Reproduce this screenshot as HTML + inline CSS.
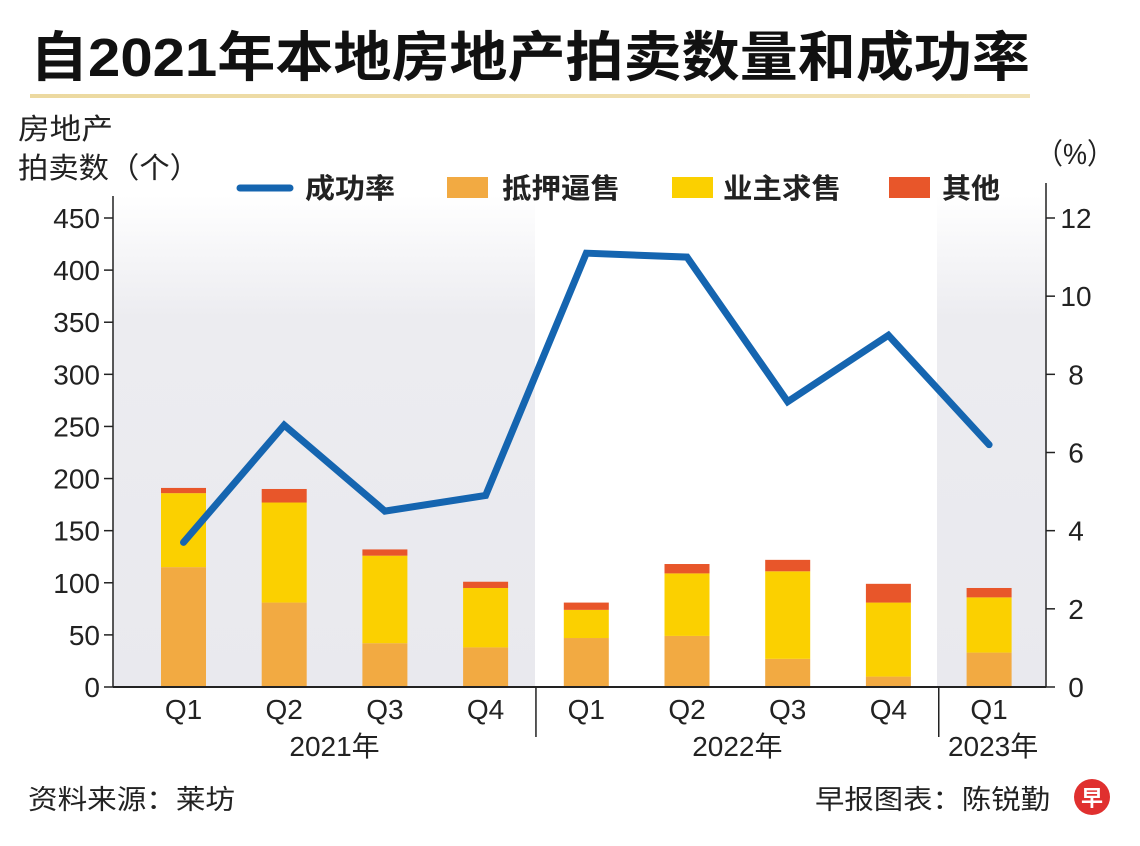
<!DOCTYPE html>
<html><head><meta charset="utf-8"><style>
body{margin:0;background:#fff;}
svg{display:block;font-family:"Liberation Sans","Noto Sans CJK SC",sans-serif;}
</style></head><body>
<svg id="chart" width="1140" height="846" viewBox="0 0 1140 846">
<defs>
<linearGradient id="bg" x1="0" y1="0" x2="0" y2="1"><stop offset="0" stop-color="#fff"/><stop offset="0.25" stop-color="#ececf0"/><stop offset="1" stop-color="#e9e9ee"/></linearGradient>
<linearGradient id="ul" x1="0" y1="0" x2="1" y2="0"><stop offset="0" stop-color="#ecd9a0"/><stop offset="1" stop-color="#f1e2b6"/></linearGradient>
</defs>
<text x="30" y="76" font-size="54" font-weight="bold" fill="#111" textLength="1000" lengthAdjust="spacingAndGlyphs">自2021年本地房地产拍卖数量和成功率</text>
<rect x="30" y="94" width="1000" height="4" fill="url(#ul)"/>
<rect x="113" y="195" width="422" height="492" fill="url(#bg)"/>
<rect x="937" y="195" width="109" height="492" fill="url(#bg)"/>
<text x="18" y="139" font-size="29" fill="#222" textLength="95" lengthAdjust="spacingAndGlyphs">房地产</text>
<text x="18" y="178" font-size="29" fill="#222" textLength="182" lengthAdjust="spacingAndGlyphs">拍卖数（个）</text>
<text x="1036" y="164" font-size="29" fill="#222" textLength="78" lengthAdjust="spacingAndGlyphs">（%）</text>
<g>
<line x1="240" y1="188" x2="290" y2="188" stroke="#1565b0" stroke-width="7" stroke-linecap="round"/>
<text x="305" y="198" font-size="28" font-weight="bold" fill="#222" textLength="90" lengthAdjust="spacingAndGlyphs">成功率</text>
<rect x="447" y="177" width="41" height="21" fill="#f2aa42"/>
<text x="502" y="198" font-size="28" font-weight="bold" fill="#222" textLength="118" lengthAdjust="spacingAndGlyphs">抵押逼售</text>
<rect x="672" y="177" width="41" height="21" fill="#fbd000"/>
<text x="723" y="198" font-size="28" font-weight="bold" fill="#222" textLength="118" lengthAdjust="spacingAndGlyphs">业主求售</text>
<rect x="889" y="177" width="41" height="21" fill="#e8562a"/>
<text x="942" y="198" font-size="28" font-weight="bold" fill="#222" textLength="58" lengthAdjust="spacingAndGlyphs">其他</text>
</g>
<g id="marks"></g>
<g id="axes"></g>
<text x="28" y="809" font-size="27" fill="#222" textLength="207" lengthAdjust="spacingAndGlyphs">资料来源：莱坊</text>
<text x="815" y="809" font-size="27" fill="#222" textLength="235" lengthAdjust="spacingAndGlyphs">早报图表：陈锐勤</text>
<circle cx="1092" cy="797" r="18" fill="#e0302f"/>
<text x="1092" y="806" font-size="22" font-weight="bold" fill="#fff" text-anchor="middle">早</text>
</svg>
<script>
const categories=["Q1","Q2","Q3","Q4","Q1","Q2","Q3","Q4","Q1"];
const foreclosure=[115,81,42,38,47,49,27,10,33];
const ownerSale=[71,96,84,57,27,60,84,71,53];
const other=[5,13,6,6,7,9,11,18,9];
const rate=[3.7,6.7,4.5,4.9,11.1,11.0,7.3,9.0,6.2];
const leftTicks=[0,50,100,150,200,250,300,350,400,450];
const rightTicks=[0,2,4,6,8,10,12];
const years=[{label:"2021年",from:0,to:3},{label:"2022年",from:4,to:7},{label:"2023年",from:8,to:8}];

const NS="http://www.w3.org/2000/svg";
const X0=113,X1=1046,Y0=687,YT=218;
const yL=v=>Y0-(v/450)*(Y0-YT);
const yR=v=>Y0-(v/12)*(Y0-YT);
const step=100.7, first=183.5;
const xC=i=>first+i*step;
function mk(tag,attrs,parent){const e=document.createElementNS(NS,tag);for(const k in attrs)e.setAttribute(k,attrs[k]);parent.appendChild(e);return e;}
const marks=document.getElementById('marks'), axes=document.getElementById('axes');
const bw=45;
categories.forEach((c,i)=>{
  let base=0;
  [[foreclosure,'#f2aa42','foreclosure'],[ownerSale,'#fbd000','owner-sale'],[other,'#e8562a','other']].forEach(([arr,col,nm])=>{
    const v=arr[i];
    const r=mk('rect',{x:xC(i)-bw/2,y:yL(base+v),width:bw,height:yL(base)-yL(base+v),fill:col},marks);
    
    
    base+=v;
  });
});
const pts=rate.map((v,i)=>xC(i)+','+yR(v)).join(' ');
const pl=mk('polyline',{points:pts,fill:'none',stroke:'#1565b0','stroke-width':7,'stroke-linejoin':'miter','stroke-linecap':'round'},marks);


let a=mk('line',{x1:X0,y1:196,x2:X0,y2:Y0,stroke:'#222','stroke-width':1.5},axes);


a=mk('line',{x1:X1,y1:183,x2:X1,y2:Y0,stroke:'#222','stroke-width':1.5},axes);


a=mk('line',{x1:X0,y1:Y0,x2:X1,y2:Y0,stroke:'#222','stroke-width':2},axes);


leftTicks.forEach(t=>{
  mk('line',{x1:X0-9,y1:yL(t),x2:X0,y2:yL(t),stroke:'#222','stroke-width':1.5},axes);
  const tx=mk('text',{x:100,y:yL(t)+10,'font-size':28,'text-anchor':'end',fill:'#222'},axes);
  tx.textContent=t;
  
  
});
rightTicks.forEach(t=>{
  mk('line',{x1:X1,y1:yR(t),x2:X1+9,y2:yR(t),stroke:'#222','stroke-width':1.5},axes);
  const tx=mk('text',{x:1076,y:yR(t)+10,'font-size':28,'text-anchor':'middle',fill:'#222'},axes);
  tx.textContent=t;
  
  
});
categories.forEach((c,i)=>{
  const tx=mk('text',{x:xC(i),y:719,'font-size':28,'text-anchor':'middle',fill:'#222'},axes);
  tx.textContent=c;
  
  
});
years.forEach((y,k)=>{
  const tx=mk('text',{x:(xC(y.from)+xC(y.to))/2+(k==2?4:0),y:756,'font-size':28,'text-anchor':'middle',fill:'#222'},axes);
  tx.textContent=y.label;
  
  
  if(k>0){
    const sx=(xC(y.from)+xC(y.from-1))/2;
    const s=mk('line',{x1:sx,y1:Y0,x2:sx,y2:737,stroke:'#222','stroke-width':1.5},axes);
    
    
  }
});
</script>
</body></html>
